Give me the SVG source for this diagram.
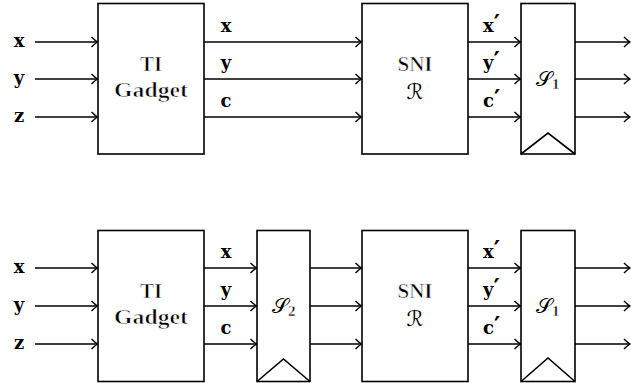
<svg xmlns="http://www.w3.org/2000/svg" width="631" height="383" viewBox="0 0 631 383">
<style>
.box{fill:#fff;stroke:#000;stroke-width:1.6}
.clk{fill:none;stroke:#000;stroke-width:1.6;stroke-linejoin:miter}
.wire{stroke:#000;stroke-width:1.6;fill:none;marker-end:url(#arr)}
.rm{font-family:'Liberation Serif','DejaVu Serif',serif;font-size:21px;font-weight:bold;fill:#000;stroke:#fff;stroke-width:0.65;text-anchor:middle}
.bf{font-family:'DejaVu Serif','Liberation Serif',serif;font-size:18px;font-weight:bold;fill:#000}
.pr{font-family:'DejaVu Serif','Liberation Serif',serif;font-size:24px;font-weight:bold}
.cal{font-family:'DejaVu Sans','DejaVu Serif',sans-serif;font-size:21px;font-style:normal;fill:#000}
.sub{font-family:'Liberation Serif','DejaVu Serif',serif;font-size:15px;font-weight:bold;fill:#000;stroke:#fff;stroke-width:0.45}
</style>
<defs>
<marker id="arr" markerUnits="userSpaceOnUse" markerWidth="14" markerHeight="14" viewBox="-8 -7 10 14" refX="0" refY="0" orient="auto">
<path d="M-6,-5 Q-2.5,-1.5 0,0 Q-2.5,1.5 -6,5" fill="none" stroke="#000" stroke-width="1.4"/>
</marker>
</defs>
<g id="connectors">
<line class="wire" x1="35" y1="42" x2="97.5" y2="42"/>
<line class="wire" x1="35" y1="79" x2="97.5" y2="79"/>
<line class="wire" x1="35" y1="117" x2="97.5" y2="117"/>
<line class="wire" x1="204" y1="42" x2="361.5" y2="42"/>
<line class="wire" x1="204" y1="79" x2="361.5" y2="79"/>
<line class="wire" x1="204" y1="117" x2="361.5" y2="117"/>
<line class="wire" x1="468" y1="42" x2="520.5" y2="42"/>
<line class="wire" x1="468" y1="79" x2="520.5" y2="79"/>
<line class="wire" x1="468" y1="117" x2="520.5" y2="117"/>
<line class="wire" x1="575" y1="42" x2="630" y2="42"/>
<line class="wire" x1="575" y1="79" x2="630" y2="79"/>
<line class="wire" x1="575" y1="117" x2="630" y2="117"/>
<line class="wire" x1="35" y1="268" x2="97.5" y2="268"/>
<line class="wire" x1="35" y1="306" x2="97.5" y2="306"/>
<line class="wire" x1="35" y1="344" x2="97.5" y2="344"/>
<line class="wire" x1="204" y1="268" x2="256.5" y2="268"/>
<line class="wire" x1="204" y1="306" x2="256.5" y2="306"/>
<line class="wire" x1="204" y1="344" x2="256.5" y2="344"/>
<line class="wire" x1="310" y1="268" x2="361.5" y2="268"/>
<line class="wire" x1="310" y1="306" x2="361.5" y2="306"/>
<line class="wire" x1="310" y1="344" x2="361.5" y2="344"/>
<line class="wire" x1="468" y1="268" x2="520.5" y2="268"/>
<line class="wire" x1="468" y1="306" x2="520.5" y2="306"/>
<line class="wire" x1="468" y1="344" x2="520.5" y2="344"/>
<line class="wire" x1="575" y1="268" x2="630" y2="268"/>
<line class="wire" x1="575" y1="306" x2="630" y2="306"/>
<line class="wire" x1="575" y1="344" x2="630" y2="344"/>
</g>
<g id="labels-top">
<text class="bf" x="19" y="46.5" text-anchor="middle">x</text>
<text class="bf" x="19" y="83.5" text-anchor="middle">y</text>
<text class="bf" x="19" y="121.5" text-anchor="middle">z</text>
<text class="bf" x="226" y="32" text-anchor="middle">x</text>
<text class="bf" x="226" y="69" text-anchor="middle">y</text>
<text class="bf" x="226" y="107" text-anchor="middle">c</text>
<text class="bf" x="483" y="32">x<tspan class="pr">′</tspan></text>
<text class="bf" x="483" y="69">y<tspan class="pr">′</tspan></text>
<text class="bf" x="483" y="107">c<tspan class="pr">′</tspan></text>
</g>
<g id="labels-bottom">
<text class="bf" x="19" y="272.5" text-anchor="middle">x</text>
<text class="bf" x="19" y="310.5" text-anchor="middle">y</text>
<text class="bf" x="19" y="348.5" text-anchor="middle">z</text>
<text class="bf" x="226" y="258" text-anchor="middle">x</text>
<text class="bf" x="226" y="296" text-anchor="middle">y</text>
<text class="bf" x="226" y="334" text-anchor="middle">c</text>
<text class="bf" x="483" y="258">x<tspan class="pr">′</tspan></text>
<text class="bf" x="483" y="296">y<tspan class="pr">′</tspan></text>
<text class="bf" x="483" y="334">c<tspan class="pr">′</tspan></text>
</g>
<g id="ti1">
<rect class="box" x="98" y="3.5" width="106" height="150.5"/>
<text class="rm" x="151" y="71">TI</text>
<text class="rm" x="151" y="97" textLength="74" lengthAdjust="spacingAndGlyphs">Gadget</text>
</g>
<g id="sni1">
<rect class="box" x="362" y="3.5" width="106" height="150.5"/>
<text class="rm" x="415" y="71">SNI</text>
<text class="cal" x="415" y="99" text-anchor="middle">ℛ</text>
</g>
<g id="s1top">
<rect class="box" x="521" y="3.5" width="54" height="150.5"/>
<polyline class="clk" points="521,154 548,133 575,154"/>
<text class="cal" x="544" y="86" text-anchor="middle">𝒮</text>
<text class="sub" x="552" y="89">1</text>
</g>
<g id="ti2">
<rect class="box" x="98" y="230.5" width="106" height="151"/>
<text class="rm" x="151" y="298">TI</text>
<text class="rm" x="151" y="324" textLength="74" lengthAdjust="spacingAndGlyphs">Gadget</text>
</g>
<g id="s2">
<rect class="box" x="257" y="230.5" width="53" height="151"/>
<polyline class="clk" points="257,381.5 283.5,359 310,381.5"/>
<text class="cal" x="280" y="313" text-anchor="middle">𝒮</text>
<text class="sub" x="288" y="316">2</text>
</g>
<g id="sni2">
<rect class="box" x="362" y="230.5" width="106" height="151"/>
<text class="rm" x="415" y="298">SNI</text>
<text class="cal" x="415" y="326" text-anchor="middle">ℛ</text>
</g>
<g id="s1bottom">
<rect class="box" x="521" y="230.5" width="54" height="151"/>
<polyline class="clk" points="521,381.5 548,358 575,381.5"/>
<text class="cal" x="544" y="313" text-anchor="middle">𝒮</text>
<text class="sub" x="552" y="316">1</text>
</g>
</svg>
